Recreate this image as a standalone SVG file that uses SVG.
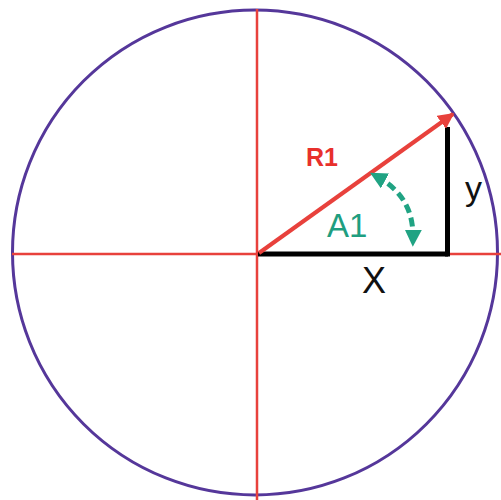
<svg xmlns="http://www.w3.org/2000/svg" width="501" height="500" viewBox="0 0 501 500">
<defs>
<marker id="redHead" viewBox="0 0 10 10" refX="9" refY="5" markerWidth="4" markerHeight="4" markerUnits="strokeWidth" orient="auto">
<path d="M0,0 L10,5 L0,10 z" fill="#e8413c"/>
</marker>
<marker id="greenHead" viewBox="0 0 10 10" refX="6" refY="5" markerWidth="3.4" markerHeight="3.4" markerUnits="strokeWidth" orient="auto-start-reverse">
<path d="M0,0 L10,5 L0,10 z" fill="#20a383"/>
</marker>
</defs>
<style>
.axis{stroke:#e8413c;stroke-width:2.5;fill:none}
.lbl{font-family:"Liberation Sans",Arial,sans-serif;paint-order:stroke;stroke:#ffffff;stroke-width:4;stroke-linejoin:round}
</style>
<rect width="501" height="500" fill="#ffffff"/>
<g id="circle">
<circle cx="255" cy="252.5" r="242.5" fill="none" stroke="#55379a" stroke-width="3"/>
</g>
<g id="axes">
<line class="axis" x1="12" y1="254" x2="501" y2="254"/>
<line class="axis" x1="257" y1="9" x2="257" y2="500"/>
</g>
<g id="connectors">
<line x1="258" y1="254" x2="448" y2="254" stroke="#000" stroke-width="5"/>
<line x1="447.5" y1="127" x2="447.5" y2="256.5" stroke="#000" stroke-width="5"/>
<line x1="259" y1="253" x2="453" y2="114" stroke="#e8413c" stroke-width="4" marker-end="url(#redHead)"/>
<path d="M376 176 C398 188 414 206 413 240" fill="none" stroke="#20a383" stroke-width="5" stroke-dasharray="9 5" marker-start="url(#greenHead)" marker-end="url(#greenHead)"/>
</g>
<g id="label-R1"><text class="lbl" x="306" y="166" font-size="25" font-weight="bold" fill="#e8302c">R1</text></g>
<g id="label-A1"><text class="lbl" x="327" y="237" font-size="33" fill="#1f9e80">A1</text></g>
<g id="label-y"><text class="lbl" x="465" y="200" font-size="34" fill="#111">y</text></g>
<g id="label-X"><text class="lbl" x="362" y="293" font-size="36" fill="#111">X</text></g>
</svg>
